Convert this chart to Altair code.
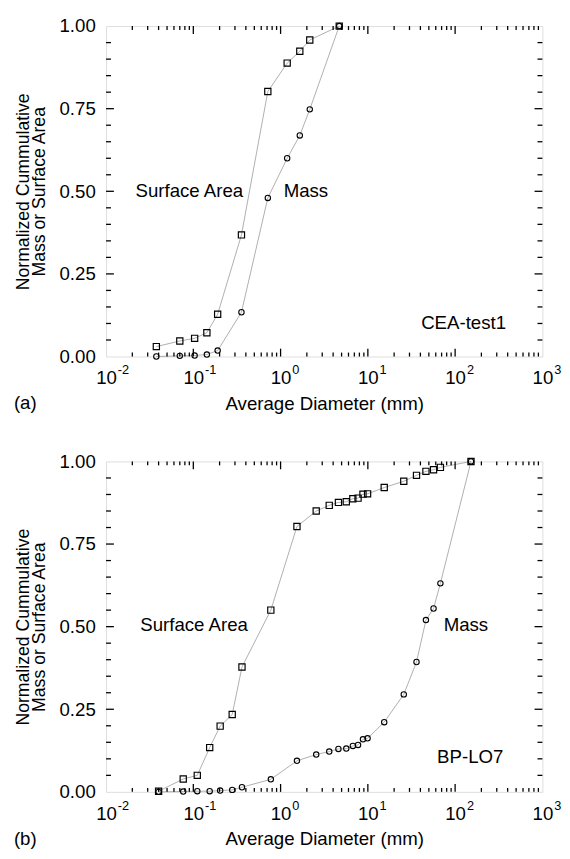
import altair as alt
import pandas as pd

# ---------------- data ----------------
# Panel (a) CEA-test1
a_diam = [0.0377, 0.070, 0.1035, 0.143, 0.19, 0.356, 0.714, 1.19, 1.66, 2.16, 4.7]
a_mass = [0.0, 0.002, 0.003, 0.006, 0.018, 0.134, 0.480, 0.600, 0.669, 0.748, 1.0]
a_area = [0.030, 0.047, 0.055, 0.072, 0.128, 0.368, 0.802, 0.888, 0.924, 0.958, 1.0]

# Panel (b) BP-LO7
b_diam = [0.040, 0.0766, 0.111, 0.154, 0.203, 0.279, 0.361, 0.773, 1.54, 2.56, 3.61, 4.60,
          5.66, 6.73, 7.72, 8.79, 9.93, 15.4, 25.8, 36.1, 46.3, 56.6, 67.8, 152]
b_mass = [0.0, 0.001, 0.002, 0.002, 0.004, 0.006, 0.014, 0.038, 0.094, 0.113, 0.122, 0.130,
          0.131, 0.139, 0.142, 0.159, 0.162, 0.211, 0.295, 0.393, 0.520, 0.555, 0.631, 1.0]
b_area = [0.002, 0.039, 0.050, 0.134, 0.199, 0.234, 0.378, 0.550, 0.803, 0.850, 0.867, 0.876,
          0.878, 0.887, 0.889, 0.901, 0.902, 0.921, 0.940, 0.958, 0.970, 0.975, 0.982, 1.0]

series_names = ["Mass", "Surface Area"]

# annotations: (text, diameter, value)
a_notes_text = ["Surface Area", "Mass", "CEA-test1"]
a_notes_d = [0.090, 1.95, 125]
a_notes_v = [0.50, 0.50, 0.10]
b_notes_text = ["Surface Area", "Mass", "BP-LO7"]
b_notes_d = [0.102, 133, 149]
b_notes_v = [0.505, 0.505, 0.105]

panel_letters = ["(a)", "(b)"]

# axis ticks
x_decades = [0.01, 0.1, 1, 10, 100, 1000]
x_exponents = ["-2", "-1", "0", "1", "2", "3"]
x_minor = [m * d for d in [0.01, 0.1, 1, 10, 100] for m in range(2, 10)]
y_major = [0.0, 0.25, 0.5, 0.75, 1.0]
y_minor = [0.05, 0.1, 0.15, 0.2, 0.3, 0.35, 0.4, 0.45, 0.55, 0.6, 0.65, 0.7, 0.8, 0.85, 0.9, 0.95]

W, H = 445, 337
FONT = "Liberation Sans"


def panel(diam, mass, area, nt, nd, nv, letter):
    df = pd.DataFrame({
        "d": diam + diam,
        "v": mass + area,
        "s": [series_names[0]] * len(diam) + [series_names[1]] * len(diam),
    })
    x_enc = alt.X(
        "d:Q",
        scale=alt.Scale(type="log", domain=[0.01, 1000]),
        axis=alt.Axis(values=x_decades, labelExpr="'10'", title="Average Diameter (mm)",
                      ticks=False, tickSize=0, domain=False, grid=False, labelPadding=13,
                      titlePadding=7, labelFontSize=19, titleFontSize=19,
                      labelFont=FONT, titleFont=FONT, titleFontWeight="normal",
                      labelColor="black", titleColor="black", labelFlush=False),
    )
    y_enc = alt.Y(
        "v:Q",
        scale=alt.Scale(domain=[0, 1]),
        axis=alt.Axis(values=y_major, format=".2f",
                      title=["Normalized Cummulative", "Mass or Surface Area"],
                      ticks=False, tickSize=0, domain=False, grid=False, labelPadding=11,
                      titlePadding=11, labelFontSize=19, titleFontSize=18,
                      titleLineHeight=16,
                      labelFont=FONT, titleFont=FONT, titleFontWeight="normal",
                      labelColor="black", titleColor="black", labelFlush=False),
    )
    base = alt.Chart(df)
    lines = base.mark_line(color="#9a9a9a", strokeWidth=0.8).encode(
        x=x_enc, y=y_enc, detail="s:N")
    circles = base.transform_filter(alt.datum.s == series_names[0]).mark_point(
        shape="circle", filled=False, color="black", size=30, strokeWidth=1.1, opacity=1
    ).encode(x=x_enc, y=y_enc)
    squares = base.transform_filter(alt.datum.s == series_names[1]).mark_point(
        shape="square", filled=False, color="black", size=40, strokeWidth=1.2, opacity=1
    ).encode(x=x_enc, y=y_enc)

    major_x = alt.Chart(pd.DataFrame({"d": x_decades[1:-1]}))
    minor_x = alt.Chart(pd.DataFrame({"d": x_minor}))
    major_y = alt.Chart(pd.DataFrame({"v": y_major[1:-1]}))
    minor_y = alt.Chart(pd.DataFrame({"v": y_minor}))
    tk = dict(color="black", strokeWidth=1.3)
    ticks = [
        major_x.mark_rule(**tk).encode(x=x_enc, y=alt.value(H), y2=alt.value(H - 8)),
        major_x.mark_rule(**tk).encode(x=x_enc, y=alt.value(0), y2=alt.value(8)),
        minor_x.mark_rule(**tk).encode(x=x_enc, y=alt.value(H), y2=alt.value(H - 4)),
        minor_x.mark_rule(**tk).encode(x=x_enc, y=alt.value(0), y2=alt.value(4)),
        major_y.mark_rule(**tk).encode(y=y_enc, x=alt.value(0), x2=alt.value(8)),
        major_y.mark_rule(**tk).encode(y=y_enc, x=alt.value(W), x2=alt.value(W - 8)),
        minor_y.mark_rule(**tk).encode(y=y_enc, x=alt.value(0), x2=alt.value(5)),
        minor_y.mark_rule(**tk).encode(y=y_enc, x=alt.value(W), x2=alt.value(W - 5)),
    ]

    exps = alt.Chart(pd.DataFrame({"d": x_decades, "e": x_exponents})).mark_text(
        align="left", baseline="top", dx=12, fontSize=13, font=FONT, color="black"
    ).encode(x=x_enc, y=alt.value(H + 8), text="e:N")

    notes = alt.Chart(pd.DataFrame({"d": nd, "v": nv, "t": nt})).mark_text(
        align="center", baseline="middle", fontSize=19, font=FONT, color="black"
    ).encode(x=x_enc, y=y_enc, text="t:N")

    tag = alt.Chart(pd.DataFrame({"t": [letter]})).mark_text(
        align="left", baseline="middle", fontSize=19, font=FONT, color="black"
    ).encode(x=alt.value(-94), y=alt.value(H + 48), text="t:N")

    return alt.layer(lines, *ticks, circles, squares, exps, notes, tag).properties(
        width=W, height=H)


top = panel(a_diam, a_mass, a_area, a_notes_text, a_notes_d, a_notes_v, panel_letters[0])
bottom = panel(b_diam, b_mass, b_area, b_notes_text, b_notes_d, b_notes_v, panel_letters[1])

chart = alt.vconcat(top, bottom, spacing=38).properties(
    padding={"left": 5, "top": 0, "right": 0, "bottom": 0}
).configure_view(stroke="black", strokeWidth=2).configure(background="white")

chart.save("out.html", embed_options={"renderer": "svg", "actions": False})
